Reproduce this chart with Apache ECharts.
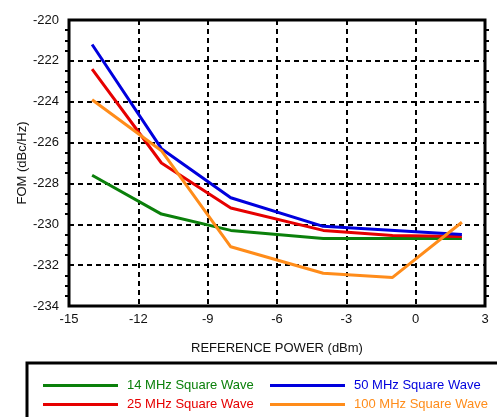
<!DOCTYPE html>
<html>
<head>
<meta charset="utf-8">
<script src="https://cdn.jsdelivr.net/npm/echarts@6/dist/echarts.min.js"></script>
<style>html,body{margin:0;padding:0;background:#fff;}#c{width:497px;height:417px;}</style>
</head>
<body>
<div id="c"></div>
<script>
const xTicks = [-15, -12, -9, -6, -3, 0, 3];
const yTicks = [-234, -232, -230, -228, -226, -224, -222, -220];

const names = ['14 MHz Square Wave', '25 MHz Square Wave', '50 MHz Square Wave', '100 MHz Square Wave'];
const colors = ['#0b800b', '#e60000', '#0000dd', '#ff8c1a'];

const x14 = [-14, -11, -8, -4, 2];
const y14 = [-227.6, -229.5, -230.3, -230.7, -230.7];
const x25 = [-14, -11, -8, -4, -1, 2];
const y25 = [-222.4, -227.0, -229.2, -230.3, -230.55, -230.6];
const x50 = [-14, -11, -8, -4, 2];
const y50 = [-221.2, -226.3, -228.7, -230.1, -230.5];
const x100 = [-14, -11, -8, -4, -1, 2];
const y100 = [-223.9, -226.4, -231.1, -232.4, -232.6, -229.9];

const seriesX = [x14, x25, x50, x100];
const seriesY = [y14, y25, y50, y100];

const FONT = 'Liberation Sans, Arial, sans-serif';

const chart = echarts.init(document.getElementById('c'), null, {renderer: 'canvas'});

const series = names.map((n, i) => ({
  name: n,
  type: 'line',
  data: seriesX[i].map((x, j) => [x, seriesY[i][j]]),
  showSymbol: false,
  symbol: 'none',
  lineStyle: {color: colors[i], width: 3},
  itemStyle: {color: colors[i]},
  z: 10 + i
}));

// legend positions: rows [14,50], [25,100]
const legendPos = [
  {left: 43, top: 379},
  {left: 43, top: 398},
  {left: 270, top: 379},
  {left: 270, top: 398}
];
const legends = names.map((n, i) => ({
  left: legendPos[i].left,
  top: legendPos[i].top,
  padding: 0,
  itemWidth: 75,
  itemHeight: 3,
  icon: 'rect',
  selectedMode: false,
  data: [{name: n, textStyle: {color: colors[i]}}],
  textStyle: {fontSize: 13, fontFamily: FONT, padding: [0, 0, 0, 4]}
}));

const splitStyle = {show: true, lineStyle: {color: '#000', width: 2, type: [5, 4]}};

chart.setOption({
  animation: false,
  backgroundColor: '#fff',
  grid: {left: 69, top: 20, right: 12, bottom: 111, show: true, borderColor: '#000', borderWidth: 3, backgroundColor: 'transparent'},
  legend: legends,
  xAxis: {
    type: 'value',
    min: xTicks[0], max: xTicks[xTicks.length - 1], interval: 3,
    name: 'REFERENCE POWER (dBm)',
    nameLocation: 'middle',
    nameGap: 36,
    nameTextStyle: {fontSize: 13, fontFamily: FONT, color: '#111'},
    axisLine: {show: false, onZero: false},
    axisTick: {show: false},
    axisLabel: {fontSize: 13, fontFamily: FONT, color: '#111', margin: 7},
    splitLine: splitStyle
  },
  yAxis: [{
    type: 'value',
    min: yTicks[0], max: yTicks[yTicks.length - 1], interval: 2,
    name: 'FOM (dBc/Hz)',
    nameLocation: 'middle',
    nameGap: 40,
    nameMoveOverlap: false,
    nameTextStyle: {fontSize: 13, fontFamily: FONT, color: '#111'},
    axisLine: {show: false, onZero: false},
    axisTick: {show: false},
    minorTick: {show: true, splitNumber: 4, length: 4, lineStyle: {color: '#000', width: 2}},
    axisLabel: {fontSize: 13, fontFamily: FONT, color: '#111', margin: 10},
    splitLine: splitStyle
  }, {
    type: 'value',
    position: 'right',
    min: yTicks[0], max: yTicks[yTicks.length - 1], interval: 2,
    axisLine: {show: false, onZero: false},
    axisTick: {show: false},
    minorTick: {show: true, splitNumber: 4, length: 4, lineStyle: {color: '#000', width: 2}},
    axisLabel: {show: false},
    splitLine: {show: false}
  }],
  graphic: [{
    type: 'rect',
    shape: {x: 27, y: 363, width: 490, height: 80},
    style: {fill: 'none', stroke: '#000', lineWidth: 3},
    silent: true
  }],
  series: series
});
</script>
</body>
</html>
